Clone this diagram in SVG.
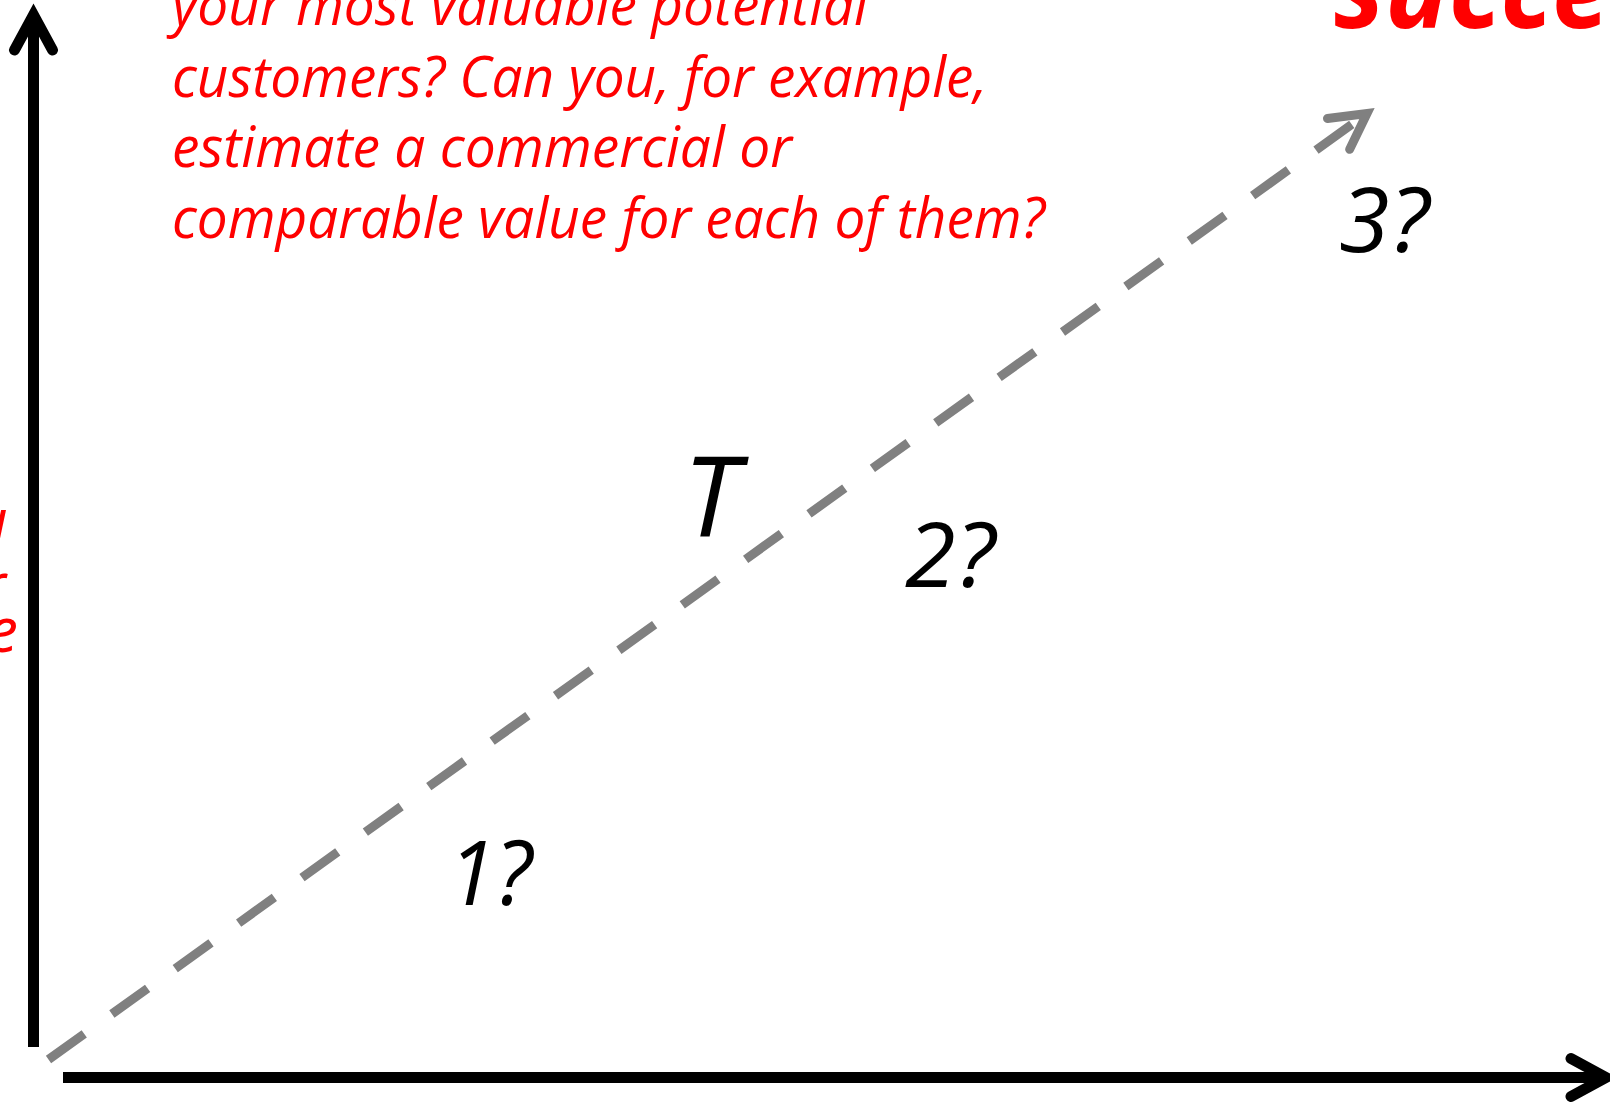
<svg xmlns="http://www.w3.org/2000/svg" width="1610" height="1104" viewBox="0 0 1610 1104">
  <style>
    .red { fill: #FF0000; font-family: "Open Sans", "Noto Sans", "Liberation Sans", sans-serif; font-style: italic; }
    .q { fill: #000000; font-family: "Open Sans", "Noto Sans", "Liberation Sans", sans-serif; font-style: italic; font-size: 90px; }
    .big { font-size: 112px; }
    .axis { fill: none; stroke: #000000; stroke-width: 11; stroke-linecap: butt; }
    .trend { fill: none; stroke: #808080; stroke-width: 9; stroke-dasharray: 44 34; stroke-linecap: butt; }
  </style>
  <defs>
    <marker id="headBlack" markerUnits="userSpaceOnUse" orient="auto" viewBox="-50 -30 60 60" markerWidth="60" markerHeight="60" refX="0" refY="0" overflow="visible">
      <path d="M-35,-19 L0,0 L-35,19" fill="none" stroke="#000000" stroke-width="11" stroke-linecap="round" stroke-linejoin="miter"/>
    </marker>
    <marker id="headGray" markerUnits="userSpaceOnUse" orient="auto" viewBox="-50 -30 60 60" markerWidth="60" markerHeight="60" refX="0" refY="0" overflow="visible">
      <path d="M-35,-19 L0,0 L-35,19" fill="none" stroke="#808080" stroke-width="9" stroke-linecap="round" stroke-linejoin="miter"/>
    </marker>
  </defs>
  <rect x="0" y="0" width="1610" height="1104" fill="#FFFFFF"/>

  <g id="connectors">
    <line id="y-axis" class="axis" x1="33.5" y1="1047" x2="33.5" y2="15" marker-end="url(#headBlack)"/>
    <line id="x-axis" class="axis" x1="63" y1="1077.5" x2="1606" y2="1077.5" marker-end="url(#headBlack)"/>
    <line id="trend-arrow" class="trend" x1="48.5" y1="1059.5" x2="1367" y2="113.5" marker-end="url(#headGray)"/>
  </g>

  <g id="question-text">
    <text class="red" font-size="56">
      <tspan x="172" y="25" textLength="696" lengthAdjust="spacingAndGlyphs">your most valuable potential</tspan>
      <tspan x="172" y="97" textLength="815" lengthAdjust="spacingAndGlyphs">customers? Can you, for example,</tspan>
      <tspan x="172" y="167" textLength="620" lengthAdjust="spacingAndGlyphs">estimate a commercial or</tspan>
      <tspan x="172" y="238" textLength="873" lengthAdjust="spacingAndGlyphs">comparable value for each of them?</tspan>
    </text>
  </g>

  <g id="success-label">
    <text class="red" x="1334" y="28" font-size="112" font-weight="bold" textLength="378" lengthAdjust="spacingAndGlyphs">success</text>
  </g>

  <g id="left-label">
    <text class="red" font-size="60" text-anchor="end" x="5" y="556">l</text>
    <text class="red" font-size="60" text-anchor="end" x="6" y="606">r</text>
    <text class="red" font-size="62" text-anchor="end" x="18" y="652">e</text>
  </g>

  <g id="label-T">
    <text class="q big" x="683" y="537">T</text>
  </g>
  <g id="label-1">
    <text class="q" x="448" y="905" textLength="84" lengthAdjust="spacingAndGlyphs">1?</text>
  </g>
  <g id="label-2">
    <text class="q" x="905" y="587" textLength="90" lengthAdjust="spacingAndGlyphs">2?</text>
  </g>
  <g id="label-3">
    <text class="q" x="1339" y="252" textLength="90" lengthAdjust="spacingAndGlyphs">3?</text>
  </g>
</svg>
